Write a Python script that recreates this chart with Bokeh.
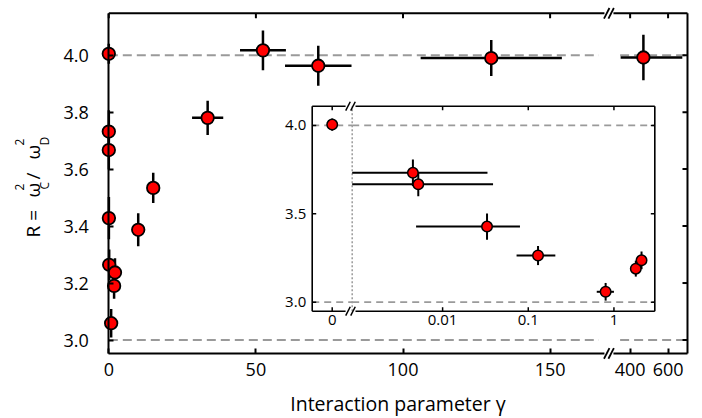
import numpy as np
from bokeh.plotting import figure
from bokeh.models import Range1d, FixedTicker, LinearAxis, Label, PrintfTickFormatter
from bokeh.embed import file_html
from bokeh.resources import INLINE
from bokeh.core.properties import value

# ---------------- data ----------------
gamma     = [0.0, 0.0045, 0.0052, 0.033, 0.13, 0.80, 1.80, 2.10, 10.0, 15.1, 33.6, 52.4, 71.2, 130.0, 470.0]
gamma_lo  = [0.0, 0.0, 0.0, 0.0049, 0.073, 0.63, 1.62, 1.92, 9.2, 14.2, 28.3, 44.6, 59.9, 106.0, 350.0]
gamma_hi  = [0.0, 0.0334, 0.0388, 0.080, 0.207, 1.00, 2.00, 2.32, 10.8, 16.0, 38.9, 60.2, 82.5, 154.0, 675.0]
ratio     = [4.005, 3.732, 3.667, 3.428, 3.264, 3.059, 3.190, 3.237, 3.387, 3.534, 3.780, 4.017, 3.963, 3.990, 3.992]
ratio_err = [0.035, 0.075, 0.068, 0.074, 0.054, 0.050, 0.045, 0.050, 0.058, 0.053, 0.060, 0.070, 0.070, 0.063, 0.080]

ref_levels = [3.0, 4.0]

main_x_ticks_left = [0, 50, 100, 150]
main_x_ticks_right = [400, 600]
main_y_ticks = [3.0, 3.2, 3.4, 3.6, 3.8, 4.0]

inset_y_ticks = [3.0, 3.5, 4.0]
inset_y_labels = ["3.0", "3.5", "4.0"]
inset_x_ticks_log = [0.01, 0.1, 1.0]
inset_x_labels_log = ["0.01", "0.1", "1"]
inset_gamma_max = 3.0

x_label = "Interaction parameter \u03b3"

# ---------------- layout ----------------
FONT = "Open Sans"
DESC = 0.293                 # font descent (em), label anchors sit on it
FW, FH = 700, 416            # frame == whole canvas
PX_PER_X, X0_PX = 2.942, 108.3
PX_PER_Y, Y3_PX = 284.8, 339.5
X_RANGE = (-X0_PX / PX_PER_X, (FW - X0_PX) / PX_PER_X)
Y_RANGE = (3.0 - (FH - Y3_PX) / PX_PER_Y, 3.0 + Y3_PX / PX_PER_Y)
X_BOX = (0.0, 196.7)
Y_BOX = (2.953, 4.147)
BREAK_AT, BREAK_LO, BREAK_HI = 170.0, 166.6, 173.8
RIGHT_SRC = (400.0, 600.0)
RIGHT_TGT = (177.2, 190.1)

DASH_COL = "#9a9a9a"

p = figure(frame_width=FW, frame_height=FH, min_border=0,
           x_range=Range1d(*X_RANGE), y_range=Range1d(*Y_RANGE),
           x_axis_location=None, y_axis_location=None,
           output_backend="svg", toolbar_location=None)
p.grid.visible = False
p.outline_line_color = None
p.background_fill_color = "white"
p.border_fill_color = "white"

right = p.subplot(x_source=Range1d(*RIGHT_SRC), y_source=Range1d(*Y_RANGE),
                  x_target=Range1d(*RIGHT_TGT), y_target=Range1d(*Y_RANGE))

g = np.array(gamma); glo = np.array(gamma_lo); ghi = np.array(gamma_hi)
r = np.array(ratio); re = np.array(ratio_err)

# reference dashed levels (gap at the axis break)
n = len(ref_levels)
p.segment(x0=[X_BOX[0]] * n, y0=ref_levels, x1=[BREAK_LO] * n, y1=ref_levels,
          line_color=DASH_COL, line_width=2, line_dash="9 5")
p.segment(x0=[BREAK_HI] * n, y0=ref_levels, x1=[X_BOX[1]] * n, y1=ref_levels,
          line_color=DASH_COL, line_width=2, line_dash="9 5")

# box: top and right lines + inward ticks
p.segment(x0=[X_BOX[0]], y0=[Y_BOX[1]], x1=[X_BOX[1]], y1=[Y_BOX[1]], line_color="black", line_width=2)
p.segment(x0=[X_BOX[1]], y0=[Y_BOX[0]], x1=[X_BOX[1]], y1=[Y_BOX[1]], line_color="black", line_width=2)
TL = 5
p.segment(x0=main_x_ticks_left, y0=[Y_BOX[1] - TL / PX_PER_Y] * len(main_x_ticks_left),
          x1=main_x_ticks_left, y1=[Y_BOX[1]] * len(main_x_ticks_left), line_color="black", line_width=2)
right.segment(x0=main_x_ticks_right, y0=[Y_BOX[1] - TL / PX_PER_Y] * 2,
              x1=main_x_ticks_right, y1=[Y_BOX[1]] * 2, line_color="black", line_width=2)
p.segment(x0=[X_BOX[1] - TL / PX_PER_X] * len(main_y_ticks), y0=main_y_ticks,
          x1=[X_BOX[1]] * len(main_y_ticks), y1=main_y_ticks, line_color="black", line_width=2)

# main data
L = g <= BREAK_AT
R = ~L
for api, m in ((p, L), (right, R)):
    api.segment(x0=g[m], y0=r[m] - re[m], x1=g[m], y1=r[m] + re[m], line_color="black", line_width=2.5)
    api.segment(x0=glo[m], y0=r[m], x1=ghi[m], y1=r[m], line_color="black", line_width=2.5)
    api.scatter(x=g[m], y=r[m], size=12.5, fill_color="#ff0000", line_color="black", line_width=1.8)

# axes
def style_axis(ax):
    ax.axis_line_width = 2
    ax.axis_line_color = "black"
    ax.major_tick_line_width = 2
    ax.major_tick_line_color = "black"
    ax.major_tick_in = TL
    ax.major_tick_out = 0
    ax.minor_tick_line_color = None
    ax.major_label_text_font = FONT
    ax.major_label_text_font_size = "18px"
    ax.major_label_text_color = "black"

xticks = main_x_ticks_left + list(RIGHT_TGT)
xaxis = LinearAxis(ticker=FixedTicker(ticks=xticks), fixed_location=Y_BOX[0], bounds=X_BOX,
                   major_label_overrides={RIGHT_TGT[0]: str(main_x_ticks_right[0]),
                                          RIGHT_TGT[1]: str(main_x_ticks_right[1])})
style_axis(xaxis)
xaxis.major_label_standoff = 10
p.add_layout(xaxis, "below")

yaxis = LinearAxis(ticker=FixedTicker(ticks=main_y_ticks), fixed_location=X_BOX[0], bounds=Y_BOX,
                   formatter=PrintfTickFormatter(format="%.1f"))
style_axis(yaxis)
yaxis.major_label_standoff = 20
p.add_layout(yaxis, "left")

# axis break marks on the main box
for yb in (Y_BOX[0], Y_BOX[1]):
    p.scatter(x=[BREAK_AT], y=[yb], marker="square", size=9, fill_color="white", line_color=None, level="overlay")
    p.scatter(x=[BREAK_AT - 2.2 / PX_PER_X, BREAK_AT + 2.2 / PX_PER_X], y=[yb, yb], marker="dash",
              angle=1.1, size=12, line_color="black", line_width=1.8, level="overlay")

# ---------------- inset ----------------
INS_Y_SRC = (2.949, 4.109)
INS_Y_TGT = (3.101, 3.821)
INS_LIN_SRC = (-1.0, 1.0)
INS_LOG_SRC = (np.log10(0.00088), np.log10(3.0))   # decades
INS_X_TGT_LIN = (69.14, 82.73)
INS_X_TGT_LOG = (82.73, 185.59)

ins_lin = p.subplot(x_source=Range1d(*INS_LIN_SRC), y_source=Range1d(*INS_Y_SRC),
                    x_target=Range1d(*INS_X_TGT_LIN), y_target=Range1d(*INS_Y_TGT))
ins_log = p.subplot(x_source=Range1d(*INS_LOG_SRC), y_source=Range1d(*INS_Y_SRC),
                    x_target=Range1d(*INS_X_TGT_LOG), y_target=Range1d(*INS_Y_TGT))

ypx = (INS_Y_TGT[1] - INS_Y_TGT[0]) * PX_PER_Y / (INS_Y_SRC[1] - INS_Y_SRC[0])
linpx = (INS_X_TGT_LIN[1] - INS_X_TGT_LIN[0]) * PX_PER_X / (INS_LIN_SRC[1] - INS_LIN_SRC[0])
logpx = (INS_X_TGT_LOG[1] - INS_X_TGT_LOG[0]) * PX_PER_X / (INS_LOG_SRC[1] - INS_LOG_SRC[0])
ylo, yhi = INS_Y_SRC
xl0, xl1 = INS_LIN_SRC
xg0, xg1 = INS_LOG_SRC

# dashed reference levels and dotted break line
ins_lin.segment(x0=[xl0] * n, y0=ref_levels, x1=[xl1] * n, y1=ref_levels,
                line_color=DASH_COL, line_width=1.8, line_dash="7 5")
ins_log.segment(x0=[xg0] * n, y0=ref_levels, x1=[xg1] * n, y1=ref_levels,
                line_color=DASH_COL, line_width=1.8, line_dash="7 5")
ins_log.segment(x0=[xg0], y0=[ylo], x1=[xg0], y1=[yhi], line_color=DASH_COL, line_width=1.5, line_dash="2 2")

# box with gap at the break
gap_l = 0.67
gap_r = xg0 + 3.3 / logpx
BOXW = 1.6
ins_lin.segment(x0=[xl0], y0=[ylo], x1=[xl0], y1=[yhi], line_color="black", line_width=BOXW)
ins_log.segment(x0=[xg1], y0=[ylo], x1=[xg1], y1=[yhi], line_color="black", line_width=BOXW)
ins_lin.segment(x0=[xl0, xl0], y0=[ylo, yhi], x1=[gap_l, gap_l], y1=[ylo, yhi], line_color="black", line_width=BOXW)
ins_log.segment(x0=[gap_r, gap_r], y0=[ylo, yhi], x1=[xg1, xg1], y1=[ylo, yhi], line_color="black", line_width=BOXW)
for yb in (ylo, yhi):
    ins_lin.scatter(x=[0.79, 1.04], y=[yb, yb], marker="dash", angle=1.1, size=10,
                    line_color="black", line_width=1.5)

# inset ticks (inward)
ITL = 4
k = len(inset_y_ticks)
lt = np.log10(inset_x_ticks_log)
ins_lin.segment(x0=[xl0] * k, y0=inset_y_ticks, x1=[xl0 + ITL / linpx] * k, y1=inset_y_ticks,
                line_color="black", line_width=1.5)
ins_log.segment(x0=[xg1 - ITL / logpx] * k, y0=inset_y_ticks, x1=[xg1] * k, y1=inset_y_ticks,
                line_color="black", line_width=1.5)
for yb, d in ((ylo, 1), (yhi, -1)):
    ins_lin.segment(x0=[0.0], y0=[yb], x1=[0.0], y1=[yb + d * ITL / ypx], line_color="black", line_width=1.5)
    ins_log.segment(x0=lt, y0=[yb] * 3, x1=lt, y1=[yb + d * ITL / ypx] * 3,
                    line_color="black", line_width=1.5)

# inset tick labels
ins_lin.text(x=[xl0] * k, y=inset_y_ticks, text=inset_y_labels, x_offset=-6,
             text_align="right", text_baseline="middle",
             text_font=value(FONT), text_font_size="15px", text_color="black")
ins_lin.text(x=[0.0], y=[ylo], text=["0"], y_offset=4, text_align="center", text_baseline="top",
             text_font=value(FONT), text_font_size="15px", text_color="black")
ins_log.text(x=lt, y=[ylo] * 3, text=inset_x_labels_log, y_offset=4,
             text_align="center", text_baseline="top",
             text_font=value(FONT), text_font_size="15px", text_color="black")

# inset data
Z = g == 0
P = (g > 0) & (g <= inset_gamma_max)
lg = np.log10(np.where(P, g, 1.0))
lglo = np.log10(np.maximum(np.where(P, glo, 1.0), 10 ** xg0))
lghi = np.log10(np.where(P, ghi, 1.0))
ins_lin.segment(x0=g[Z], y0=r[Z] - re[Z], x1=g[Z], y1=r[Z] + re[Z], line_color="black", line_width=2)
ins_log.segment(x0=lg[P], y0=r[P] - re[P], x1=lg[P], y1=r[P] + re[P], line_color="black", line_width=2)
ins_log.segment(x0=lglo[P], y0=r[P], x1=lghi[P], y1=r[P], line_color="black", line_width=2)
ins_lin.scatter(x=g[Z], y=r[Z], size=10.5, fill_color="#ff0000", line_color="black", line_width=1.5)
ins_log.scatter(x=lg[P], y=r[P], size=10.5, fill_color="#ff0000", line_color="black", line_width=1.5)

# ---------------- axis titles (screen units; frame == canvas) ----------------
XL_FS = 19.5
p.add_layout(Label(x=397.5, y=FH - 409 + DESC * XL_FS, x_units="screen", y_units="screen", text=x_label,
                   text_align="center", text_baseline="alphabetic",
                   text_font=FONT, text_font_size=f"{XL_FS}px", text_color="black"))

ang = np.pi / 2
pieces = [
    ("R =", 38, 237, 19),
    ("\u03c9", 38, 197, 19),
    ("2", 23, 190, 12),
    ("C", 48, 189, 12),
    ("/", 38, 179, 19),
    ("\u03c9", 38, 159, 19),
    ("2", 23, 145, 12),
    ("D", 48, 145, 12),
]
for txt, px, py, fs in pieces:
    p.add_layout(Label(x=px - DESC * fs, y=FH - py, x_units="screen", y_units="screen", text=txt, angle=ang,
                       text_align="left", text_baseline="alphabetic",
                       text_font=FONT, text_font_size=f"{fs}px", text_color="black"))

open("out.html", "w").write(file_html(p, INLINE))
